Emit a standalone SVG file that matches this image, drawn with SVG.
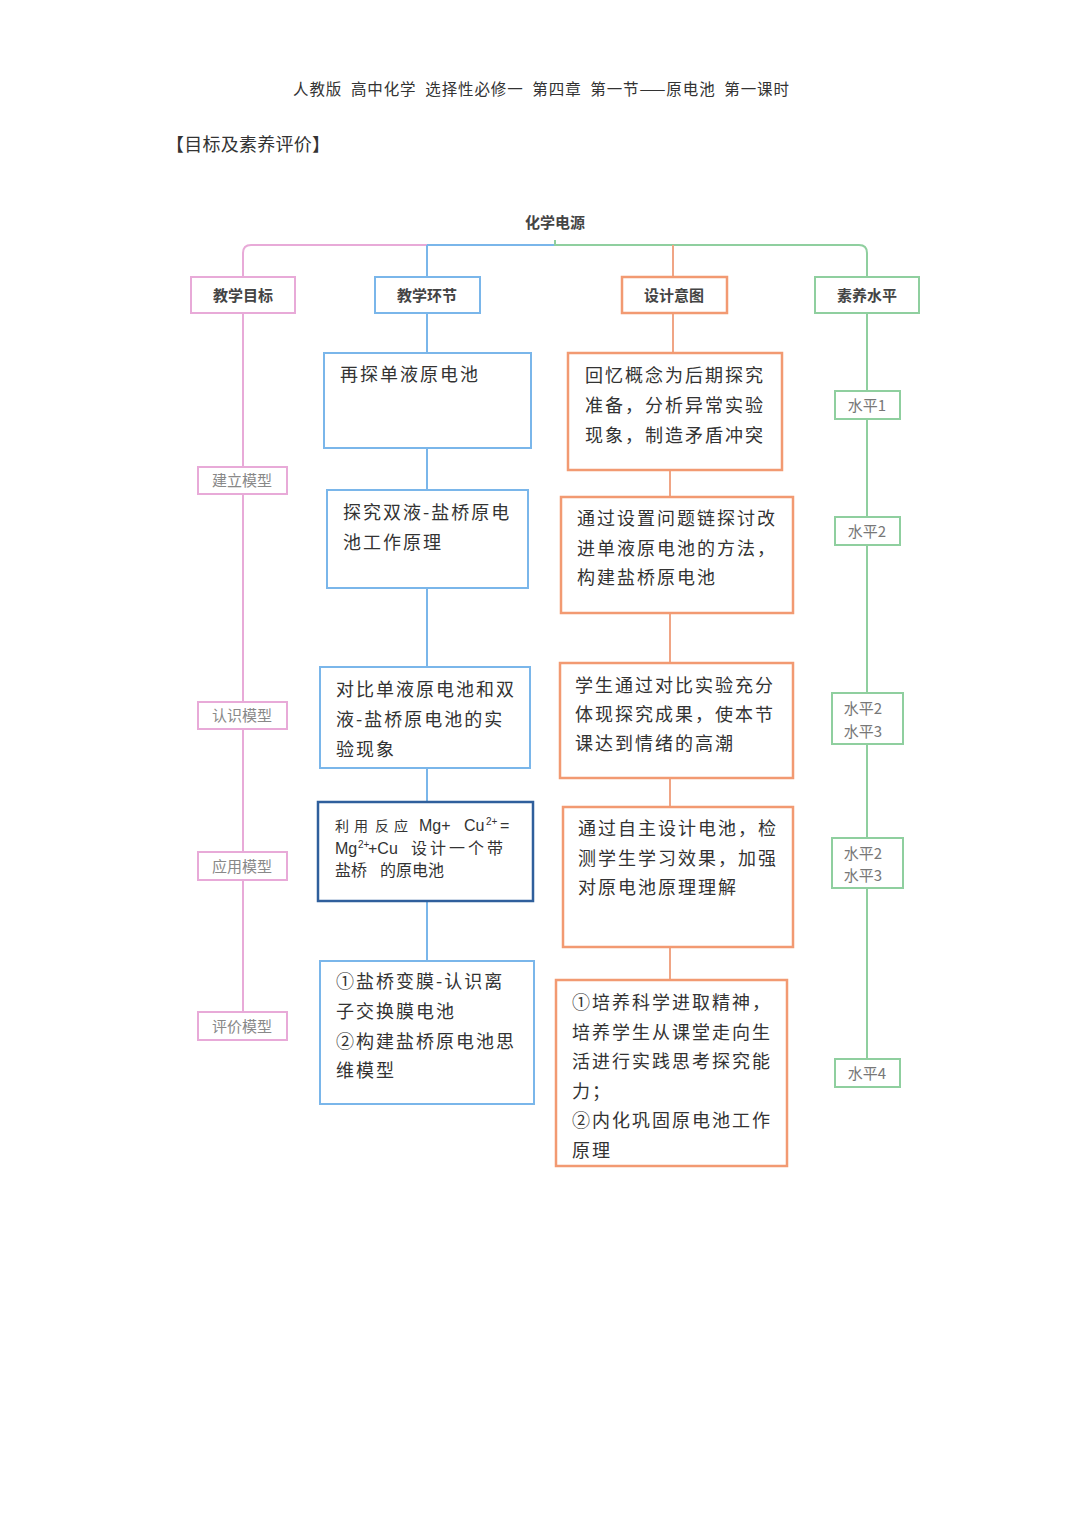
<svg xmlns="http://www.w3.org/2000/svg" width="1080" height="1528" viewBox="0 0 1080 1528">
<style>
.cjk{font-family:"Noto Sans CJK SC","Noto Sans",sans-serif}
.lat{font-family:"Liberation Sans",Arial,sans-serif}
.hd{font-size:15px;font-weight:bold;fill:#444;text-anchor:middle}
.tx{font-size:18px;fill:#333;letter-spacing:2px}
.lv{font-size:15px;fill:#777;text-anchor:middle}
.pk{font-size:15px;fill:#888;text-anchor:middle}
.pinkS{fill:#fff;stroke:#e8aad8;stroke-width:2}
.blueS{fill:#fff;stroke:#7ab6ea;stroke-width:2}
.navyS{fill:#fff;stroke:#2f5f9c;stroke-width:2.5}
.orS{fill:#fff;stroke:#f29a72;stroke-width:2.5}
.grS{fill:#fff;stroke:#8fcf9f;stroke-width:2}
.lp{stroke:#e8aad8;stroke-width:2;fill:none}
.lb{stroke:#7ab6ea;stroke-width:2;fill:none}
.lo{stroke:#f0a585;stroke-width:2;fill:none}
.lg{stroke:#8fcf9f;stroke-width:2;fill:none}
</style>
<rect width="1080" height="1528" fill="#fff"/>
<text class="cjk" x="293" y="95" font-size="15.5" fill="#333" textLength="496" lengthAdjust="spacing" xml:space="preserve">人教版  高中化学  选择性必修一  第四章  第一节——原电池  第一课时</text>
<text class="cjk" x="166" y="151" font-size="18" fill="#333" textLength="164" lengthAdjust="spacing">【目标及素养评价】</text>
<text class="cjk hd" x="555" y="228" fill="#555">化学电源</text>

<g id="connectors">
<path class="lp" d="M243,277 V253 Q243,245 251,245 H427"/>
<path class="lb" d="M427,245 H555"/>
<path class="lb" d="M427,245 V961"/>
<path class="lg" d="M555,245 H859 Q867,245 867,253 V1059"/>
<line class="lg" x1="555" y1="240" x2="555" y2="246"/>
<path class="lo" d="M673,245 V353"/>
<path class="lo" d="M670,470 V497"/>
<path class="lo" d="M670,613 V663"/>
<path class="lo" d="M670,778 V807"/>
<path class="lo" d="M670,947 V980"/>
<path class="lp" d="M243,313 V1012"/>
</g>

<g id="h-goal"><rect class="pinkS" x="191" y="277" width="104" height="36"/><text class="cjk hd" x="243" y="301">教学目标</text></g>
<g id="h-step"><rect class="blueS" x="375" y="277" width="105" height="36"/><text class="cjk hd" x="427" y="301">教学环节</text></g>
<g id="h-intent"><rect class="orS" x="622" y="277" width="105" height="36"/><text class="cjk hd" x="674" y="301">设计意图</text></g>
<g id="h-level"><rect class="grS" x="815" y="277" width="104" height="36"/><text class="cjk hd" x="867" y="301">素养水平</text></g>

<g id="g1"><rect class="pinkS" x="198" y="467" width="89" height="27"/><text class="cjk pk" x="242" y="486">建立模型</text></g>
<g id="g2"><rect class="pinkS" x="198" y="702" width="89" height="27"/><text class="cjk pk" x="242" y="721">认识模型</text></g>
<g id="g3"><rect class="pinkS" x="198" y="852" width="89" height="28"/><text class="cjk pk" x="242" y="872">应用模型</text></g>
<g id="g4"><rect class="pinkS" x="198" y="1012" width="89" height="28"/><text class="cjk pk" x="242" y="1032">评价模型</text></g>

<g id="s1"><rect class="blueS" x="324" y="353" width="207" height="95"/><text class="cjk tx" x="340" y="381">再探单液原电池</text></g>
<g id="s2"><rect class="blueS" x="327" y="490" width="201" height="98"/><text class="cjk tx" x="343" y="519">探究双液-盐桥原电<tspan x="343" y="549">池工作原理</tspan></text></g>
<g id="s3"><rect class="blueS" x="320" y="667" width="210" height="101"/><text class="cjk tx" x="336" y="696">对比单液原电池和双<tspan x="336" y="726">液-盐桥原电池的实</tspan><tspan x="336" y="756">验现象</tspan></text></g>
<g id="s4"><rect class="navyS" x="318" y="802" width="215" height="99"/>
<text class="cjk" y="831" font-size="14" fill="#333"><tspan x="335" letter-spacing="5">利用</tspan><tspan x="375" letter-spacing="5">反应</tspan></text>
<text class="lat" y="831" font-size="16" fill="#333"><tspan x="419">Mg+</tspan><tspan x="464">Cu</tspan><tspan x="486" y="825" font-size="10">2+</tspan><tspan x="500" y="831">=</tspan></text>
<text class="lat" y="854" font-size="16" fill="#333"><tspan x="335">Mg</tspan><tspan x="358" y="848" font-size="10">2+</tspan><tspan x="368" y="854">+Cu</tspan></text>
<text class="cjk" x="411" y="854" font-size="16" fill="#333" letter-spacing="3">设计一个带</text>
<text class="cjk" y="876" font-size="16" fill="#333"><tspan x="335">盐桥</tspan><tspan x="380">的原电池</tspan></text>
</g>
<g id="s5"><rect class="blueS" x="320" y="961" width="214" height="143"/><text class="cjk tx" x="336" y="988">①盐桥变膜-认识离<tspan x="336" y="1018">子交换膜电池</tspan><tspan x="336" y="1048">②构建盐桥原电池思</tspan><tspan x="336" y="1077">维模型</tspan></text></g>

<g id="i1"><rect class="orS" x="568" y="353" width="214" height="117"/><text class="cjk tx" x="585" y="382">回忆概念为后期探究<tspan x="585" y="412">准备，分析异常实验</tspan><tspan x="585" y="442">现象，制造矛盾冲突</tspan></text></g>
<g id="i2"><rect class="orS" x="561" y="497" width="232" height="116"/><text class="cjk tx" x="577" y="525">通过设置问题链探讨改<tspan x="577" y="555">进单液原电池的方法，</tspan><tspan x="577" y="584">构建盐桥原电池</tspan></text></g>
<g id="i3"><rect class="orS" x="560" y="663" width="233" height="115"/><text class="cjk tx" x="575" y="692">学生通过对比实验充分<tspan x="575" y="721">体现探究成果，使本节</tspan><tspan x="575" y="750">课达到情绪的高潮</tspan></text></g>
<g id="i4"><rect class="orS" x="563" y="807" width="230" height="140"/><text class="cjk tx" x="578" y="835">通过自主设计电池，检<tspan x="578" y="865">测学生学习效果，加强</tspan><tspan x="578" y="894">对原电池原理理解</tspan></text></g>
<g id="i5"><rect class="orS" x="556" y="980" width="231" height="186"/><text class="cjk tx" x="572" y="1009">①培养科学进取精神，<tspan x="572" y="1039">培养学生从课堂走向生</tspan><tspan x="572" y="1068">活进行实践思考探究能</tspan><tspan x="572" y="1098">力；</tspan><tspan x="572" y="1127">②内化巩固原电池工作</tspan><tspan x="572" y="1157">原理</tspan></text></g>

<g id="l1"><rect class="grS" x="835" y="391" width="65" height="28"/><text class="cjk lv" x="867" y="411">水平1</text></g>
<g id="l2"><rect class="grS" x="835" y="517" width="65" height="28"/><text class="cjk lv" x="867" y="537">水平2</text></g>
<g id="l3"><rect class="grS" x="832" y="693" width="71" height="51"/><text class="cjk lv" x="863" y="714">水平2<tspan x="863" y="737">水平3</tspan></text></g>
<g id="l4"><rect class="grS" x="832" y="838" width="71" height="50"/><text class="cjk lv" x="863" y="859">水平2<tspan x="863" y="881">水平3</tspan></text></g>
<g id="l5"><rect class="grS" x="835" y="1059" width="65" height="28"/><text class="cjk lv" x="867" y="1079">水平4</text></g>
</svg>
